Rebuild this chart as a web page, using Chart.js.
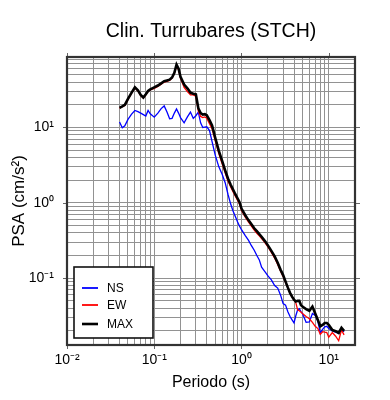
<!DOCTYPE html>
<html>
<head>
<meta charset="utf-8">
<script src="https://cdn.jsdelivr.net/npm/chart.js@4.4.0/dist/chart.umd.min.js"></script>
<style>
  html, body { margin: 0; padding: 0; background: #fff; }
  #wrap { width: 390px; height: 400px; }
</style>
</head>
<body>
<div id="wrap"><canvas id="psaChart" width="390" height="400"></canvas></div>
<script>
// Periods (s) shared by the three spectra
const periods = [
  0.040, 0.043, 0.046, 0.050, 0.055, 0.060, 0.065, 0.070, 0.075, 0.080,
  0.085, 0.090, 0.100, 0.110, 0.120, 0.130, 0.140, 0.150, 0.160, 0.170,
  0.180, 0.190, 0.200, 0.220, 0.240, 0.260, 0.280, 0.300, 0.320, 0.340,
  0.360, 0.380, 0.400, 0.430, 0.460, 0.500, 0.550, 0.600, 0.650, 0.700,
  0.750, 0.800, 0.850, 0.900, 0.950, 1.00, 1.10, 1.20, 1.30, 1.40,
  1.50, 1.60, 1.70, 1.80, 1.90, 2.00, 2.20, 2.40, 2.60, 2.80,
  3.00, 3.20, 3.40, 3.60, 3.80, 4.00, 4.20, 4.40, 4.60, 4.80,
  5.00, 5.50, 6.00, 6.50, 7.00, 7.50, 8.00, 8.50, 9.00, 9.50,
  10.0, 11.0, 12.0, 13.0, 14.0, 15.0
];

// PSA (cm/s2)
const nsValues = [
  11.8, 9.9, 10.5, 12.8, 15.0, 16.8, 16.2, 15.5, 14.8, 14.2,
  16.8, 15.2, 13.7, 15.5, 17.8, 19.3, 16.0, 13.0, 13.2, 15.5,
  17.6, 15.5, 13.5, 11.5, 13.8, 16.0, 13.2, 14.3, 16.0, 11.5,
  10.0, 10.1, 10.2, 9.1, 6.5, 4.3, 3.0, 2.4, 1.85, 1.3,
  0.97, 0.78, 0.66, 0.56, 0.49, 0.44, 0.37, 0.32, 0.27, 0.235,
  0.20, 0.175, 0.14, 0.128, 0.118, 0.108, 0.095, 0.080, 0.074, 0.060,
  0.046, 0.044, 0.036, 0.031, 0.028, 0.0255, 0.032, 0.038, 0.0395, 0.036,
  0.034, 0.026, 0.0263, 0.034, 0.032, 0.027, 0.0188, 0.021, 0.0227, 0.023,
  0.0215, 0.020, 0.0192, 0.0185, 0.021, 0.0195
];

const ewValues = [
  18.0, 18.8, 19.6, 23.5, 28.5, 33.5, 30.5, 26.5, 24.5, 27.0,
  30.0, 31.5, 33.0, 35.0, 37.5, 40.0, 41.0, 42.0, 45.0, 52.0,
  66.0, 58.0, 45.0, 34.0, 30.0, 27.0, 27.0, 26.0, 16.5, 14.0,
  13.5, 13.8, 13.3, 11.2, 9.6, 6.7, 4.5, 3.3, 2.5, 1.95,
  1.63, 1.40, 1.22, 1.08, 0.96, 0.79, 0.65, 0.56, 0.49, 0.435,
  0.395, 0.365, 0.335, 0.31, 0.285, 0.262, 0.22, 0.185, 0.152, 0.125,
  0.105, 0.088, 0.075, 0.063, 0.056, 0.051, 0.047, 0.038, 0.037, 0.0355,
  0.034, 0.031, 0.029, 0.026, 0.023, 0.0215, 0.018, 0.0195, 0.0192, 0.019,
  0.0165, 0.019, 0.017, 0.0148, 0.0205, 0.0177
];

const maxValues = [
  18.2, 19.0, 20.0, 24.0, 29.0, 34.0, 31.0, 27.0, 25.0, 27.5,
  30.5, 32.0, 34.0, 36.0, 38.5, 41.0, 42.0, 43.0, 46.0, 53.0,
  68.0, 60.0, 47.0, 37.0, 33.0, 29.0, 28.0, 27.5, 18.0, 15.5,
  14.8, 15.0, 14.5, 12.5, 10.6, 7.3, 4.9, 3.6, 2.7, 2.1,
  1.75, 1.50, 1.30, 1.15, 1.02, 0.84, 0.69, 0.59, 0.52, 0.46,
  0.42, 0.385, 0.355, 0.325, 0.30, 0.275, 0.23, 0.195, 0.16, 0.13,
  0.11, 0.09, 0.075, 0.064, 0.057, 0.052, 0.049, 0.050, 0.050, 0.044,
  0.042, 0.039, 0.037, 0.042, 0.034, 0.028, 0.023, 0.024, 0.0255, 0.0255,
  0.024, 0.0205, 0.0198, 0.0188, 0.022, 0.020
];

const xMajorTicks = [0.01, 0.1, 1, 10];
const xTickLabels = ['10\u207B\u00B2', '10\u207B\u00B9', '10\u2070', '10\u00B9'];
const yMajorTicks = [0.1, 1, 10];
const yTickLabels = ['10\u207B\u00B9', '10\u2070', '10\u00B9'];

const seriesNames = ['NS', 'EW', 'MAX'];
const seriesColors = ['#0000ff', '#ff0000', '#000000'];

const FONT = "'Liberation Sans', Arial, Helvetica, sans-serif";

function toPoints(vals) {
  return periods.map((p, i) => ({ x: p, y: vals[i] }));
}

// every 1..9 x 10^n inside the axis range (grid lines)
function logGrid(min, max) {
  const out = [];
  for (let e = Math.floor(Math.log10(min)); e <= Math.ceil(Math.log10(max)); e++) {
    for (let m = 1; m <= 9; m++) {
      const v = m * Math.pow(10, e);
      if (v >= min * 0.9999 && v <= max * 1.0001) out.push({ value: v });
    }
  }
  return out;
}

function majorLabel(value, majors, labels) {
  for (let i = 0; i < majors.length; i++) {
    if (Math.abs(Math.log10(value) - Math.log10(majors[i])) < 1e-6) return labels[i];
  }
  return '';
}

// frame, outer ticks, title and legend box
const framePlugin = {
  id: 'frame',
  afterDraw(chart) {
    const { ctx, chartArea: a, scales } = chart;
    ctx.save();

    ctx.strokeStyle = '#666';
    ctx.lineWidth = 1;
    ctx.beginPath();
    xMajorTicks.forEach(v => {
      const px = Math.round(scales.x.getPixelForValue(v)) + 0.5;
      ctx.moveTo(px, a.top); ctx.lineTo(px, a.top - 4);
      ctx.moveTo(px, a.bottom); ctx.lineTo(px, a.bottom + 4);
    });
    yMajorTicks.forEach(v => {
      const py = Math.round(scales.y.getPixelForValue(v)) + 0.5;
      ctx.moveTo(a.left, py); ctx.lineTo(a.left - 4, py);
      ctx.moveTo(a.right, py); ctx.lineTo(a.right + 5, py);
    });
    ctx.stroke();

    ctx.strokeStyle = '#333';
    ctx.lineWidth = 2.2;
    ctx.strokeRect(a.left, a.top, a.right - a.left, a.bottom - a.top);

    // title
    ctx.fillStyle = '#000';
    ctx.font = '19.5px ' + FONT;
    ctx.textAlign = 'center';
    ctx.textBaseline = 'middle';
    ctx.fillText('Clin. Turrubares (STCH)', (a.left + a.right) / 2, 32);

    // legend
    const bx = 74, by = 267, bw = 79, bh = 71;
    ctx.fillStyle = '#fff';
    ctx.fillRect(bx, by, bw, bh);
    ctx.strokeStyle = '#111';
    ctx.lineWidth = 1.6;
    ctx.strokeRect(bx, by, bw, bh);
    const rows = [288, 305, 324];
    ctx.font = '12px ' + FONT;
    ctx.textAlign = 'left';
    seriesNames.forEach((name, i) => {
      ctx.strokeStyle = seriesColors[i];
      ctx.lineWidth = i === 2 ? 2.6 : 1.8;
      ctx.beginPath();
      ctx.moveTo(82, rows[i]);
      ctx.lineTo(98, rows[i]);
      ctx.stroke();
      ctx.fillStyle = '#000';
      ctx.fillText(name, 107, rows[i] + 1);
    });

    ctx.restore();
  }
};

const ctx = document.getElementById('psaChart').getContext('2d');
const chart = new Chart(ctx, {
  type: 'line',
  data: {
    datasets: [
      { label: 'MAX', data: toPoints(maxValues), borderColor: seriesColors[2], borderWidth: 2.6, order: 0 },
      { label: 'EW', data: toPoints(ewValues), borderColor: seriesColors[1], borderWidth: 1.3, order: 1 },
      { label: 'NS', data: toPoints(nsValues), borderColor: seriesColors[0], borderWidth: 1.3, order: 2 }
    ]
  },
  options: {
    responsive: false,
    animation: false,
    layout: { padding: { top: 57, right: 35, bottom: 0, left: 0 } },
    elements: { point: { radius: 0 }, line: { tension: 0 } },
    plugins: { legend: { display: false }, title: { display: false }, tooltip: { enabled: false } },
    scales: {
      x: {
        type: 'logarithmic',
        min: 0.01,
        max: 20,
        afterBuildTicks: (scale) => { scale.ticks = logGrid(0.01, 20); },
        afterFit: (scale) => { scale.height = 55; },
        grid: { color: '#929292', lineWidth: 1, drawTicks: false },
        border: { display: false },
        ticks: {
          autoSkip: false,
          maxRotation: 0,
          padding: 7,
          color: '#000',
          font: { family: FONT, size: 14 },
          callback: (v) => majorLabel(v, xMajorTicks, xTickLabels)
        },
        title: {
          display: true,
          text: 'Periodo (s)',
          color: '#000',
          font: { family: FONT, size: 16 },
          padding: { top: 0, bottom: 8 }
        }
      },
      y: {
        type: 'logarithmic',
        min: 0.013,
        max: 86,
        afterBuildTicks: (scale) => { scale.ticks = logGrid(0.013, 86); },
        afterFit: (scale) => { scale.width = 67; },
        grid: { color: '#929292', lineWidth: 1, drawTicks: false },
        border: { display: false },
        ticks: {
          autoSkip: false,
          padding: 13,
          color: '#000',
          font: { family: FONT, size: 14 },
          callback: (v) => majorLabel(v, yMajorTicks, yTickLabels)
        },
        title: {
          display: true,
          text: 'PSA (cm/s\u00B2)',
          color: '#000',
          font: { family: FONT, size: 17 },
          padding: { top: 9, bottom: 0 }
        }
      }
    }
  },
  plugins: [framePlugin]
});
</script>
</body>
</html>
